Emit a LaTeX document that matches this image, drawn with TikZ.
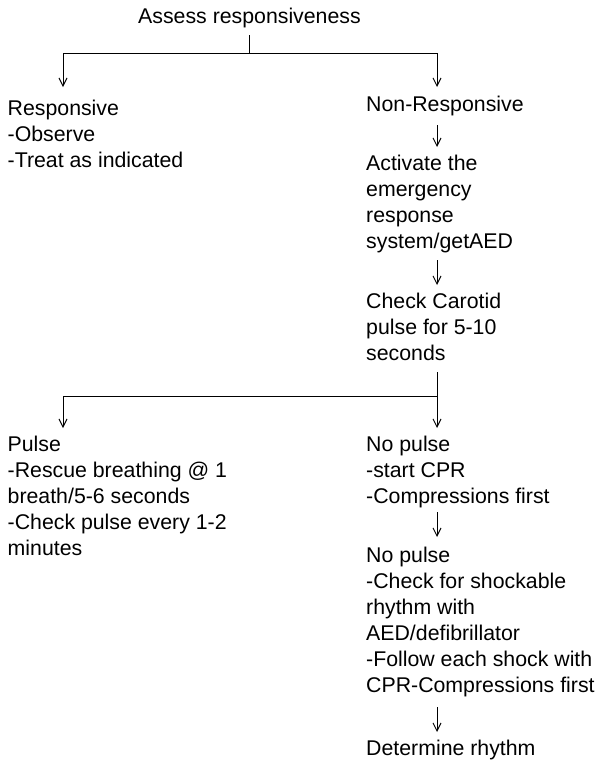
\documentclass[tikz,border=0pt]{standalone}
\usepackage{fontspec}
\setmainfont{Liberation Sans}
\usetikzlibrary{arrows.meta}
\newcommand\blk[1]{\begin{tabular}[t]{@{}l@{}}#1\end{tabular}}
\begin{document}
\begin{tikzpicture}[x=1pt,y=-1pt,
  txt/.style={anchor=base west, inner sep=0pt, font=\fontsize{21.3}{26}\selectfont},
  arr/.style={-{Straight Barb[length=8pt,width=8pt]}, line width=1pt},
  ln/.style={line width=1pt}]
\useasboundingbox (0,0) rectangle (600,763);
% texts
\node[txt] (assess) at (138,23) {Assess responsiveness};
\node[txt] (resp) at (7.5,115) {\blk{Responsive\\-Observe\\-Treat as indicated}};
\node[txt] (nonresp) at (366,111) {Non-Responsive};
\node[txt] (activate) at (366,170) {\blk{Activate the\\emergency\\response\\system/getAED}};
\node[txt] (check) at (366,308) {\blk{Check Carotid\\pulse for 5-10\\seconds}};
\node[txt] (pulse) at (7.5,451) {\blk{Pulse\\-Rescue breathing @ 1\\breath/5-6 seconds\\-Check pulse every 1-2\\minutes}};
\node[txt] (nopulse) at (366,451) {\blk{No pulse\\-start CPR\\-Compressions first}};
\node[txt] (nopulse2) at (366,562) {\blk{No pulse\\-Check for shockable\\rhythm with\\AED/defibrillator\\-Follow each shock with\\CPR-Compressions first}};
\node[txt] (determine) at (366,755) {Determine rhythm};
% connector points
\coordinate (a0) at (249,35);
\coordinate (a1) at (249,53);
\coordinate (aL) at (63,53);
\coordinate (aR) at (437,53);
\coordinate (aLt) at (63,87);
\coordinate (aRt) at (437,87);
\coordinate (n0) at (437,125);
\coordinate (n1) at (437,147);
\coordinate (c0) at (437,260);
\coordinate (c1) at (437,285);
\coordinate (b0) at (437,372);
\coordinate (bR) at (437,396);
\coordinate (bL) at (63,396);
\coordinate (bLt) at (63,428);
\coordinate (bRt) at (437,428);
\coordinate (p0) at (437,512);
\coordinate (p1) at (437,537);
\coordinate (d0) at (437,707);
\coordinate (d1) at (437,732);
% connectors
\draw[ln] (a0) -- (a1);
\draw[ln] (aL) -- (aR);
\draw[arr] (aL) -- (aLt);
\draw[arr] (aR) -- (aRt);
\draw[arr] (n0) -- (n1);
\draw[arr] (c0) -- (c1);
\draw[ln] (b0) -- (bR);
\draw[ln] (bL) -- (bR);
\draw[arr] (bL) -- (bLt);
\draw[arr] (bR) -- (bRt);
\draw[arr] (p0) -- (p1);
\draw[arr] (d0) -- (d1);
\end{tikzpicture}
\end{document}
